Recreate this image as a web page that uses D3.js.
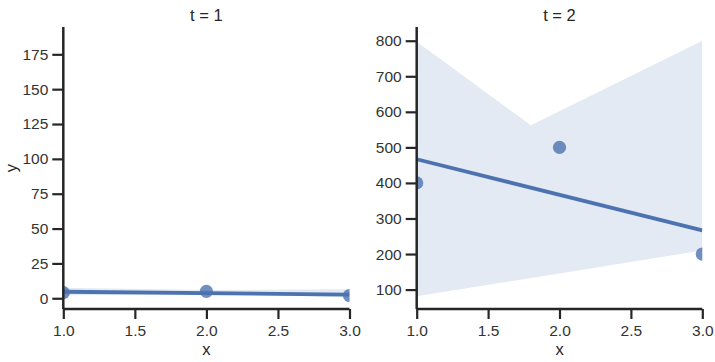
<!DOCTYPE html>
<html>
<head>
<meta charset="utf-8">
<script src="https://cdn.jsdelivr.net/npm/d3@7"></script>
<style>
  html, body { margin: 0; padding: 0; background: #fff; }
  svg { display: block; }
  text { font-family: "Liberation Sans", Arial, Helvetica, sans-serif; fill: #262626; }
</style>
</head>
<body>
<svg id="chart" width="715" height="362"></svg>
<script>
// ---- data ----
const xs = [1, 2, 3];
const yT1 = [4, 5, 2];
const yT2 = [400, 500, 200];
const titles = ["t = 1", "t = 2"];
const xTicks = [1.0, 1.5, 2.0, 2.5, 3.0];
const yTicksT1 = [0, 25, 50, 75, 100, 125, 150, 175];
const yTicksT2 = [100, 200, 300, 400, 500, 600, 700, 800];
const yDomainT1 = [-7.7, 194.6];
const yDomainT2 = [45.4, 838.6];
// confidence band
const bandXT1 = [1, 2, 3];
const bandUpT1 = [7.5, 6, 6.5];
const bandLoT1 = [2, 3.5, 0.5];
const bandUpXT2 = [1, 1.8, 3];
const bandUpT2 = [797, 562, 800];
const bandLoXT2 = [1, 3];
const bandLoT2 = [81, 210];

const svg = d3.select("#chart");
const color = "#4c72b0";
const plotTop = 27, plotBottom = 309;

const panels = [
  { x0: 63.3, x1: 349.5, ys: yT1, ticks: yTicksT1, dom: yDomainT1, title: titles[0],
    up: bandXT1.map((x, i) => [x, bandUpT1[i]]),
    lo: bandXT1.map((x, i) => [x, bandLoT1[i]]), ylabel: true },
  { x0: 416.7, x1: 702.3, ys: yT2, ticks: yTicksT2, dom: yDomainT2, title: titles[1],
    up: bandUpXT2.map((x, i) => [x, bandUpT2[i]]),
    lo: bandLoXT2.map((x, i) => [x, bandLoT2[i]]), ylabel: false }
];

function fit(xv, yv) {
  const mx = d3.mean(xv), my = d3.mean(yv);
  let sxy = 0, sxx = 0;
  xv.forEach((x, i) => { sxy += (x - mx) * (yv[i] - my); sxx += (x - mx) * (x - mx); });
  const b = sxy / sxx;
  return { b, a: my - b * mx };
}

panels.forEach((p, k) => {
  const x = d3.scaleLinear().domain([1, 3]).range([p.x0, p.x1]);
  const y = d3.scaleLinear().domain(p.dom).range([plotBottom, plotTop]);
  const g = svg.append("g");
  const clipId = "clip" + k;
  svg.append("clipPath").attr("id", clipId)
    .append("rect").attr("x", p.x0).attr("y", plotTop)
    .attr("width", p.x1 - p.x0).attr("height", plotBottom - plotTop);
  const plot = g.append("g").attr("clip-path", `url(#${clipId})`);

  // band
  const poly = p.up.map(d => [x(d[0]), y(d[1])])
    .concat(p.lo.slice().reverse().map(d => [x(d[0]), y(d[1])]));
  plot.append("path")
    .attr("d", "M" + poly.map(d => d.join(",")).join("L") + "Z")
    .attr("fill", color).attr("fill-opacity", 0.15);

  // points
  plot.selectAll("circle").data(xs).enter().append("circle")
    .attr("cx", d => x(d)).attr("cy", (d, i) => y(p.ys[i]))
    .attr("r", 6.6).attr("fill", color).attr("fill-opacity", 0.8);

  // regression line
  const f = fit(xs, p.ys);
  plot.append("line")
    .attr("x1", x(1)).attr("y1", y(f.a + f.b * 1))
    .attr("x2", x(3)).attr("y2", y(f.a + f.b * 3))
    .attr("stroke", color).attr("stroke-width", 3.8);

  // axes
  const xAxis = d3.axisBottom(x).tickValues(xTicks).tickFormat(d3.format(".1f"))
    .tickSize(10).tickPadding(6);
  const gx = g.append("g").attr("transform", `translate(0,${plotBottom})`).call(xAxis);
  const yAxis = d3.axisLeft(y).tickValues(p.ticks).tickSize(11).tickPadding(4);
  const gy = g.append("g").attr("transform", `translate(${p.x0},0)`).call(yAxis);
  [gx, gy].forEach(a => {
    a.attr("font-size", null);
    a.select(".domain").attr("stroke", "#262626").attr("stroke-width", 2.5);
    a.selectAll(".tick line").attr("stroke", "#262626").attr("stroke-width", 2.2);
    a.selectAll(".tick text").style("font-size", "15.5px").style("fill", "#333");
  });
  gx.select(".domain").attr("d", `M${p.x0},0H${p.x1}`);
  gy.select(".domain").attr("d", `M0,${plotTop}V${plotBottom}`);

  // title
  g.append("text").attr("x", (p.x0 + p.x1) / 2).attr("y", 21)
    .attr("text-anchor", "middle").style("font-size", "16.5px").text(p.title);
  // x label
  g.append("text").attr("x", (p.x0 + p.x1) / 2).attr("y", 355)
    .attr("text-anchor", "middle").style("font-size", "16.5px").text("x");
  if (p.ylabel) {
    g.append("text").attr("transform", `translate(17,${(plotTop + plotBottom) / 2}) rotate(-90)`)
      .attr("text-anchor", "middle").style("font-size", "16.5px").text("y");
  }
});
</script>
</body>
</html>
